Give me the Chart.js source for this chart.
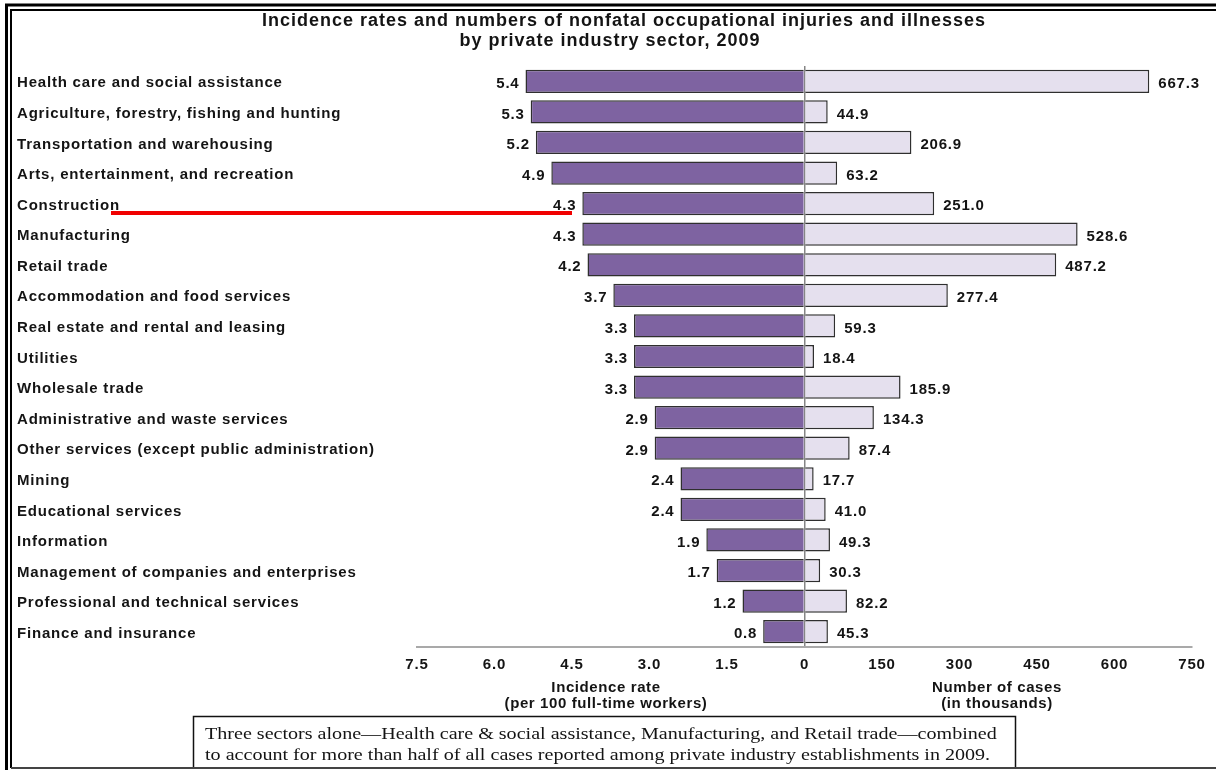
<!DOCTYPE html>
<html>
<head>
<meta charset="utf-8">
<title>Nonfatal occupational injuries and illnesses, 2009</title>
<script src="https://cdn.jsdelivr.net/npm/chart.js@4/dist/chart.umd.min.js"></script>
<style>
  html, body { margin: 0; padding: 0; background: #fff; }
  canvas { display: block; }
</style>
</head>
<body>
<canvas id="injuries" width="1216" height="770"></canvas>
<script>
// Incidence rates and case counts by private industry sector, 2009
const sectors = [
  'Health care and social assistance',
  'Agriculture, forestry, fishing and hunting',
  'Transportation and warehousing',
  'Arts, entertainment, and recreation',
  'Construction',
  'Manufacturing',
  'Retail trade',
  'Accommodation and food services',
  'Real estate and rental and leasing',
  'Utilities',
  'Wholesale trade',
  'Administrative and waste services',
  'Other services (except public administration)',
  'Mining',
  'Educational services',
  'Information',
  'Management of companies and enterprises',
  'Professional and technical services',
  'Finance and insurance'
];
const rates = [5.4, 5.3, 5.2, 4.9, 4.3, 4.3, 4.2, 3.7, 3.3, 3.3, 3.3, 2.9, 2.9, 2.4, 2.4, 1.9, 1.7, 1.2, 0.8];
const cases = [667.3, 44.9, 206.9, 63.2, 251.0, 528.6, 487.2, 277.4, 59.3, 18.4, 185.9, 134.3, 87.4, 17.7, 41.0, 49.3, 30.3, 82.2, 45.3];

// axis ends: left half is rate (7.5 .. 0), right half is cases (0 .. 750)
const rateMax = 7.5;
const casesMax = 750;
const casesStep = 150;
const rateToX = casesMax / rateMax;

const PURPLE = '#7e63a1';
const LILAC = '#e5e0ee';
const EDGE = '#2f2f2f';
const INK = '#141414';
const SANS = '"Liberation Sans", Arial, sans-serif';
const SERIF = '"Liberation Serif", "Times New Roman", serif';
const SPACING = '0.8px';

function labelFont(size) { return 'bold ' + size + 'px ' + SANS; }

const decor = {
  id: 'decor',
  beforeDraw(chart) {
    chart.ctx.letterSpacing = SPACING;
  },
  afterDatasetsDraw(chart) {
    const ctx = chart.ctx;
    ctx.save();
    ctx.letterSpacing = SPACING;
    ctx.font = labelFont(15);
    ctx.fillStyle = INK;
    ctx.textBaseline = 'middle';
    const left = chart.getDatasetMeta(0).data;
    const right = chart.getDatasetMeta(1).data;
    left.forEach((bar, i) => {
      ctx.textAlign = 'right';
      ctx.fillText(rates[i].toFixed(1), bar.x - 6, bar.y + 2.5);
    });
    right.forEach((bar, i) => {
      ctx.textAlign = 'left';
      ctx.fillText(cases[i].toFixed(1), bar.x + 9, bar.y + 2.5);
    });
    ctx.restore();
  },
  afterDraw(chart) {
    const ctx = chart.ctx;
    ctx.save();
    ctx.fillStyle = INK;
    ctx.textBaseline = 'middle';
    ctx.textAlign = 'center';

    // title
    ctx.letterSpacing = '1px';
    ctx.font = labelFont(18);
    ctx.fillText('Incidence rates and numbers of nonfatal occupational injuries and illnesses', 624, 21);
    ctx.fillText('by private industry sector, 2009', 610, 41);

    // axis titles
    ctx.letterSpacing = '0.6px';
    ctx.font = labelFont(15);
    ctx.fillText('Incidence rate', 606, 688);
    ctx.fillText('(per 100 full-time workers)', 606, 704);
    ctx.fillText('Number of cases', 997, 688);
    ctx.fillText('(in thousands)', 997, 704);

    // note box, open at the bottom where it meets the frame
    ctx.strokeStyle = '#111';
    ctx.lineWidth = 1.5;
    ctx.beginPath();
    ctx.moveTo(193.5, 768); ctx.lineTo(193.5, 716.5); ctx.lineTo(1015.5, 716.5); ctx.lineTo(1015.5, 768);
    ctx.stroke();
    ctx.letterSpacing = '0px';
    ctx.textAlign = 'left';
    ctx.font = '16px ' + SERIF;
    ctx.save();
    ctx.translate(205, 0);
    ctx.scale(1.255, 1);
    ctx.fillText('Three sectors alone\u2014Health care & social assistance, Manufacturing, and Retail trade\u2014combined', 0, 735);
    ctx.fillText('to account for more than half of all cases reported among private industry establishments in 2009.', 0, 756);
    ctx.restore();

    // frame
    ctx.strokeStyle = '#000';
    ctx.lineWidth = 3;
    ctx.beginPath();
    ctx.moveTo(6.5, 770); ctx.lineTo(6.5, 5); ctx.lineTo(1216, 5);
    ctx.stroke();
    ctx.lineWidth = 2;
    ctx.beginPath();
    ctx.moveTo(11, 768); ctx.lineTo(11, 10); ctx.lineTo(1216, 10);
    ctx.stroke();
    ctx.strokeStyle = '#444';
    ctx.beginPath();
    ctx.moveTo(11, 768); ctx.lineTo(1216, 768);
    ctx.stroke();

    // red underline marker
    ctx.strokeStyle = '#f00000';
    ctx.lineWidth = 4;
    ctx.beginPath();
    ctx.moveTo(111, 213); ctx.lineTo(572, 213);
    ctx.stroke();
    ctx.restore();
  }
};

const chart = new Chart(document.getElementById('injuries'), {
  type: 'bar',
  data: {
    labels: sectors,
    datasets: [
      {
        label: 'Incidence rate',
        data: rates.map(v => -v * rateToX),
        backgroundColor: PURPLE,
        borderColor: EDGE,
        borderWidth: 1.5,
        barPercentage: 0.76,
        categoryPercentage: 1
      },
      {
        label: 'Number of cases',
        data: cases,
        backgroundColor: LILAC,
        borderColor: EDGE,
        borderWidth: 1.5,
        barPercentage: 0.76,
        categoryPercentage: 1
      }
    ]
  },
  options: {
    indexAxis: 'y',
    responsive: false,
    animation: false,
    layout: { padding: { left: 17, right: 24, top: 66, bottom: 0 } },
    plugins: {
      legend: { display: false },
      tooltip: { enabled: false }
    },
    scales: {
      x: {
        min: -casesMax,
        max: casesMax,
        stacked: true,
        z: 1,
        afterFit: s => { s.height = 123; },
        grid: {
          color: c => (c.tick && c.tick.value === 0 ? '#858585' : 'rgba(0,0,0,0)'),
          lineWidth: 1.5,
          drawTicks: false
        },
        border: { color: '#a9a9a9', width: 2 },
        ticks: {
          stepSize: casesStep,
          autoSkip: false,
          maxRotation: 0,
          padding: 9,
          color: INK,
          font: { family: SANS, size: 15, weight: 'bold' },
          callback: v => (v < 0 ? (-v / rateToX).toFixed(1) : String(v))
        }
      },
      y: {
        stacked: true,
        afterFit: s => { s.width = 400; },
        grid: { display: false },
        border: { display: false },
        ticks: {
          crossAlign: 'far',
          padding: 0,
          labelOffset: 2,
          color: INK,
          font: { family: SANS, size: 15, weight: 'bold' }
        }
      }
    }
  },
  plugins: [decor]
});
</script>
</body>
</html>
